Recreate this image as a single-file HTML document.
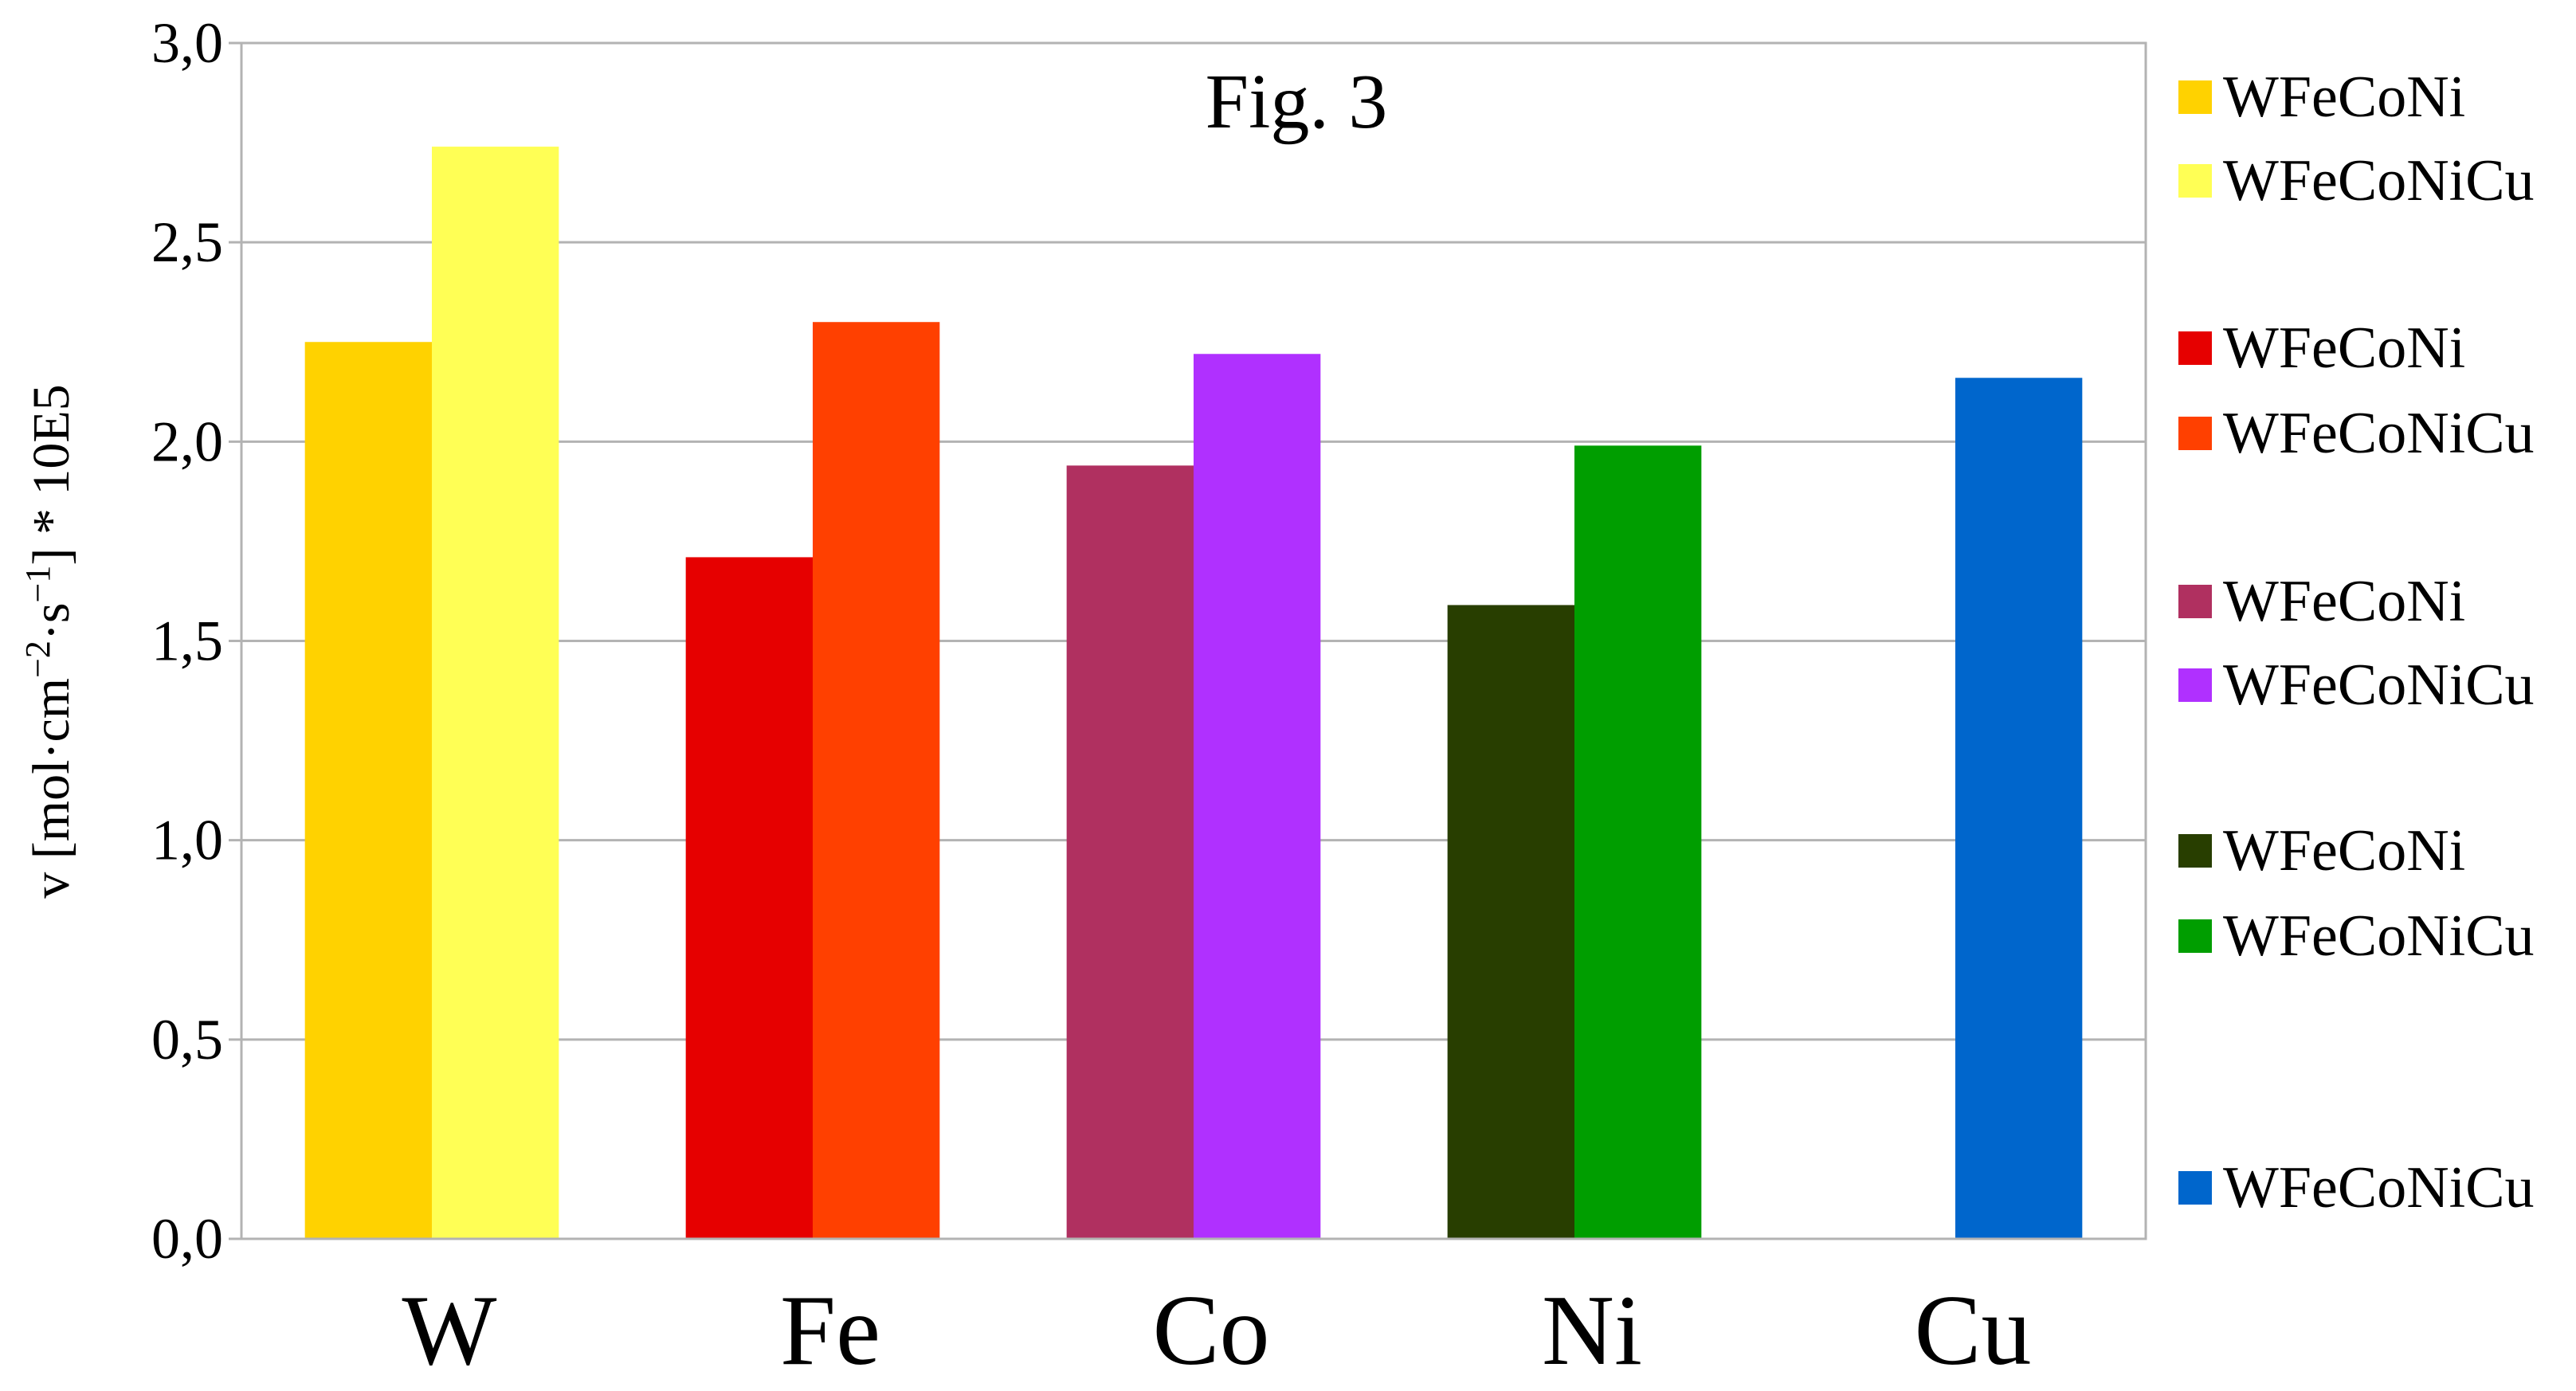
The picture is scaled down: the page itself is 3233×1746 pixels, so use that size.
<!DOCTYPE html>
<html><head><meta charset="utf-8"><style>
html,body{margin:0;padding:0;background:#fff;}
svg{display:block;font-family:"Liberation Serif",serif;}
</style></head><body>
<svg id="chart" width="3233" height="1746" viewBox="0 0 3233 1746" xmlns="http://www.w3.org/2000/svg">
<rect x="0" y="0" width="3233" height="1746" fill="#fff"/>
<g id="grid"></g>
<g id="bars"></g>
<g id="axes"></g>
<text x="1627" y="160" font-size="98" text-anchor="middle">Fig. 3</text>
<text transform="translate(86,805) rotate(-90)" font-size="66" text-anchor="middle">v [mol·cm<tspan font-size="44" dy="-24">−2</tspan><tspan dy="24">·s</tspan><tspan font-size="44" dy="-24">−1</tspan><tspan dy="24">] * 10E5</tspan></text>
<g id="legend"></g>
</svg>
<script>
const categories = ["W","Fe","Co","Ni","Cu"];
const valuesWFeCoNi = [2.25, 1.71, 1.94, 1.59, null];
const valuesWFeCoNiCu = [2.74, 2.30, 2.22, 1.99, 2.16];
const yTicks = [0, 0.5, 1.0, 1.5, 2.0, 2.5, 3.0];
const yTickLabels = ["0,0","0,5","1,0","1,5","2,0","2,5","3,0"];
const colorsA = ["#FFD200","#E60000","#B03060","#283E00",null];
const colorsB = ["#FFFF55","#FF4000","#B030FF","#009E00","#0066CC"];
const legendLabels = ["WFeCoNi","WFeCoNiCu","WFeCoNi","WFeCoNiCu","WFeCoNi","WFeCoNiCu","WFeCoNi","WFeCoNiCu","WFeCoNiCu"];
const legendColors = ["#FFD200","#FFFF55","#E60000","#FF4000","#B03060","#B030FF","#283E00","#009E00","#0066CC"];
const legendRows = [122,227,437,544,755,860,1068,1175,1491];

const NS = "http://www.w3.org/2000/svg";
const L = 303, R = 2693, T = 54, B = 1555, yMax = 3;
const catW = (R - L) / categories.length;
const barW = catW / 3;
function yScale(v){ return B - (v / yMax) * (B - T); }
function xCat(i){ return L + i * catW; }
function mk(tag, attrs, parent){ const e = document.createElementNS(NS, tag); for (const k in attrs) e.setAttribute(k, attrs[k]); parent.appendChild(e); return e; }

const grid = document.getElementById('grid');
const axes = document.getElementById('axes');
const bars = document.getElementById('bars');
const legend = document.getElementById('legend');

yTicks.forEach((t, i) => {
  const y = yScale(t);
  const gl = mk('line', {x1: L - 16, x2: R, y1: y, y2: y, stroke: '#b3b3b3', 'stroke-width': 3}, grid);
  
  
  const tx = mk('text', {x: 280, y: y + 24, 'font-size': 72, 'text-anchor': 'end'}, axes);
  tx.textContent = yTickLabels[i];
  
  
});
const frame = mk('rect', {x: L, y: T, width: R - L, height: B - T, fill: 'none', stroke: '#b3b3b3', 'stroke-width': 3}, axes);



categories.forEach((c, i) => {
  const x0 = xCat(i) + barW / 2;
  if (valuesWFeCoNi[i] != null) {
    const r = mk('rect', {x: x0, y: yScale(valuesWFeCoNi[i]), width: barW, height: B - yScale(valuesWFeCoNi[i]), fill: colorsA[i]}, bars);
    
    
  }
  if (valuesWFeCoNiCu[i] != null) {
    const r = mk('rect', {x: x0 + barW, y: yScale(valuesWFeCoNiCu[i]), width: barW, height: B - yScale(valuesWFeCoNiCu[i]), fill: colorsB[i]}, bars);
    
    
  }
  const t = mk('text', {x: xCat(i) + catW / 2 + 22, y: 1712, 'font-size': 126, 'text-anchor': 'middle'}, axes);
  t.textContent = c;
  
  
});

legendLabels.forEach((lab, i) => {
  const y = legendRows[i];
  const sq = mk('rect', {x: 2734, y: y - 21, width: 42, height: 42, fill: legendColors[i]}, legend);
  
  
  const t = mk('text', {x: 2790, y: y + 24, 'font-size': 74}, legend);
  t.textContent = lab;
  
  
});
</script>
</body></html>
